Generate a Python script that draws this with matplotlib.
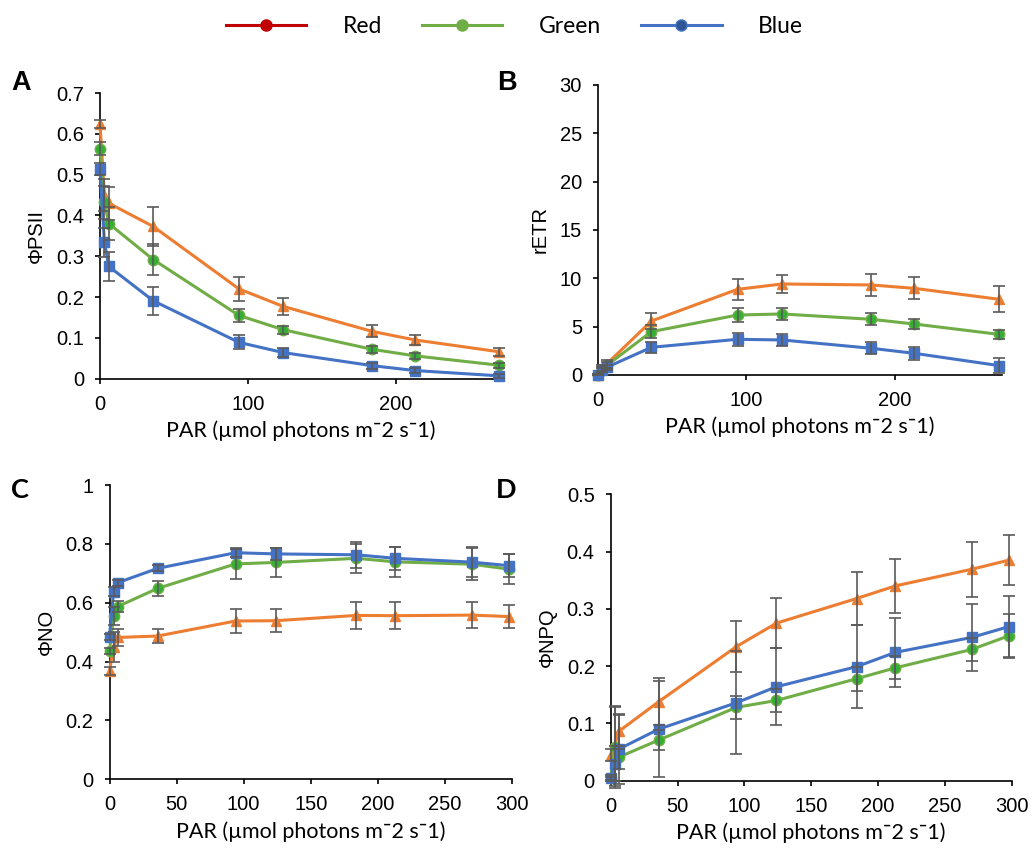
import numpy as np
import matplotlib.pyplot as plt
from matplotlib.lines import Line2D
from matplotlib.ticker import FuncFormatter

# light intensities
par_ab = [0, 3, 6, 36, 94, 124, 184, 213, 270]
par_cd = [0, 3, 6, 36, 94, 124, 184, 213, 270, 298]

# A - PhiPSII
a_orange = [0.625, 0.45, 0.43, 0.373, 0.220, 0.177, 0.116, 0.095, 0.066]
a_green = [0.564, 0.432, 0.38, 0.292, 0.155, 0.12, 0.072, 0.056, 0.033]
a_blue = [0.513, 0.334, 0.275, 0.191, 0.089, 0.064, 0.032, 0.020, 0.007]
a_orange_err = [0.01, 0.04, 0.04, 0.047, 0.03, 0.02, 0.015, 0.012, 0.01]
a_green_err = [0.015, 0.04, 0.04, 0.037, 0.016, 0.01, 0.008, 0.008, 0.006]
a_blue_err = [0.015, 0.035, 0.035, 0.034, 0.017, 0.012, 0.007, 0.007, 0.005]

# B - rETR
b_orange = [0, 0.75, 1.15, 5.58, 8.86, 9.41, 9.31, 8.96, 7.83]
b_green = [0, 0.6, 1.0, 4.48, 6.2, 6.31, 5.76, 5.27, 4.2]
b_blue = [0, 0.5, 0.8, 2.86, 3.69, 3.62, 2.76, 2.24, 0.97]
b_orange_err = [0.05, 0.3, 0.4, 0.8, 1.1, 0.95, 1.1, 1.15, 1.35]
b_green_err = [0.05, 0.25, 0.3, 0.7, 0.7, 0.6, 0.6, 0.5, 0.45]
b_blue_err = [0.05, 0.2, 0.25, 0.55, 0.65, 0.65, 0.6, 0.65, 0.8]

# C - PhiNO
c_orange = [0.368, 0.45, 0.482, 0.487, 0.538, 0.539, 0.557, 0.556, 0.558, 0.553]
c_green = [0.436, 0.555, 0.587, 0.649, 0.732, 0.737, 0.751, 0.739, 0.731, 0.714]
c_blue = [0.485, 0.637, 0.668, 0.717, 0.77, 0.766, 0.763, 0.751, 0.738, 0.726]
c_orange_err = [0.015, 0.05, 0.03, 0.025, 0.04, 0.04, 0.045, 0.045, 0.045, 0.04]
c_green_err = [0.01, 0.03, 0.02, 0.025, 0.05, 0.05, 0.05, 0.05, 0.055, 0.05]
c_blue_err = [0.01, 0.015, 0.01, 0.01, 0.015, 0.02, 0.045, 0.04, 0.05, 0.04]

# D - PhiNPQ
d_orange = [0.045, 0.06, 0.086, 0.138, 0.234, 0.275, 0.318, 0.34, 0.369, 0.385]
d_green = [0.005, 0.058, 0.041, 0.071, 0.128, 0.14, 0.178, 0.197, 0.229, 0.253]
d_blue = [0.004, 0.03, 0.055, 0.09, 0.136, 0.164, 0.199, 0.224, 0.25, 0.269]
d_orange_err = [0.01, 0.07, 0.03, 0.041, 0.044, 0.044, 0.047, 0.047, 0.048, 0.044]
d_green_err = [0.005, 0.07, 0.02, 0.017, 0.02, 0.02, 0.021, 0.02, 0.02, 0.038]
d_blue_err = [0.003, 0.03, 0.06, 0.084, 0.09, 0.067, 0.072, 0.06, 0.059, 0.053]

ORANGE = '#ED7D31'
GREEN = '#70AD47'
BLUE = '#4472C4'
ERRC = '#5A5A5A'
XLABEL = 'PAR (µmol photons m¯2 s¯1)'

fig = plt.figure(figsize=(10.34, 8.52), dpi=100)
plt.rcParams['font.family'] = ['Liberation Sans', 'DejaVu Sans']


def draw(ax, x, series, ylim, yticks, xlim, xticks, ylabel):
    for y, err, col, mk, mfc in series:
        ax.plot(x, y, color=col, lw=2.2, marker=mk, ms=7.5, mfc=mfc, mec=col,
                clip_on=False, zorder=3)
        ax.errorbar(x, y, yerr=err, fmt='none', ecolor=ERRC, elinewidth=1.2,
                    capsize=4, capthick=1.2, clip_on=False, zorder=4)
    ax.set_xlim(*xlim)
    ax.set_ylim(*ylim)
    ax.set_xticks(xticks)
    ax.set_yticks(yticks)
    ax.yaxis.set_major_formatter(FuncFormatter(lambda v, p: '%g' % round(v, 3)))
    for s in ['top', 'right']:
        ax.spines[s].set_visible(False)
    for s in ['left', 'bottom']:
        ax.spines[s].set_color('black')
        ax.spines[s].set_linewidth(1.2)
    ax.tick_params(direction='out', length=3.5, width=1.2, labelsize=14.5, pad=8)
    ax.set_ylabel(ylabel, fontsize=14.5, labelpad=7)
    ax.set_xlabel(XLABEL, fontsize=15.5, family=['Lato', 'DejaVu Sans'], labelpad=5)


axA = fig.add_axes([0.0967, 0.5555, 0.389, 0.3353])
draw(axA, par_ab,
     [(a_orange, a_orange_err, ORANGE, '^', ORANGE),
      (a_green, a_green_err, GREEN, 'o', '#33B033'),
      (a_blue, a_blue_err, BLUE, 's', BLUE)],
     (0, 0.7), np.arange(0, 0.71, 0.1), (0, 272), [0, 100, 200], 'ΦPSII')

axB = fig.add_axes([0.5783, 0.5599, 0.3907, 0.3404])
draw(axB, par_ab,
     [(b_orange, b_orange_err, ORANGE, '^', ORANGE),
      (b_green, b_green_err, GREEN, 'o', '#33B033'),
      (b_blue, b_blue_err, BLUE, 's', BLUE)],
     (0, 30), np.arange(0, 31, 5), (0, 272), [0, 100, 200], 'rETR')

axC = fig.add_axes([0.1059, 0.0853, 0.3893, 0.3454])
draw(axC, par_cd,
     [(c_orange, c_orange_err, ORANGE, '^', ORANGE),
      (c_green, c_green_err, GREEN, 'o', '#33B033'),
      (c_blue, c_blue_err, BLUE, 's', BLUE)],
     (0, 1), np.arange(0, 1.01, 0.2), (0, 300), np.arange(0, 301, 50), 'ΦNO')

axD = fig.add_axes([0.5906, 0.0837, 0.3878, 0.3362])
draw(axD, par_cd,
     [(d_orange, d_orange_err, ORANGE, '^', ORANGE),
      (d_green, d_green_err, GREEN, 'o', '#33B033'),
      (d_blue, d_blue_err, BLUE, 's', BLUE)],
     (0, 0.5), np.arange(0, 0.51, 0.1), (0, 300), np.arange(0, 301, 50), 'ΦNPQ')

# panel letters
fig.text(0.011, 0.894, 'A', fontsize=19.5, fontweight='bold')
fig.text(0.481, 0.894, 'B', fontsize=19.5, fontweight='bold')
fig.text(0.011, 0.415, 'C', fontsize=19.5, fontweight='bold', family=['Lato', 'DejaVu Sans'])
fig.text(0.480, 0.415, 'D', fontsize=19.5, fontweight='bold', family=['Lato', 'DejaVu Sans'])

# legend
handles = [Line2D([], [], color='#C00000', lw=2.2, marker='o', ms=8),
           Line2D([], [], color=GREEN, lw=2.2, marker='o', ms=8),
           Line2D([], [], color=BLUE, lw=2.2, marker='o', ms=8, mfc='#2F5597')]
fig.legend(handles, ['Red', 'Green', 'Blue'], loc='center', bbox_to_anchor=(0.4976, 0.969),
           ncol=3, frameon=False, handlelength=3.5, handletextpad=1.6, columnspacing=1.75,
           prop={'family': ['Lato', 'DejaVu Sans'], 'size': 16.5})

fig.savefig('out.png', dpi=100)
